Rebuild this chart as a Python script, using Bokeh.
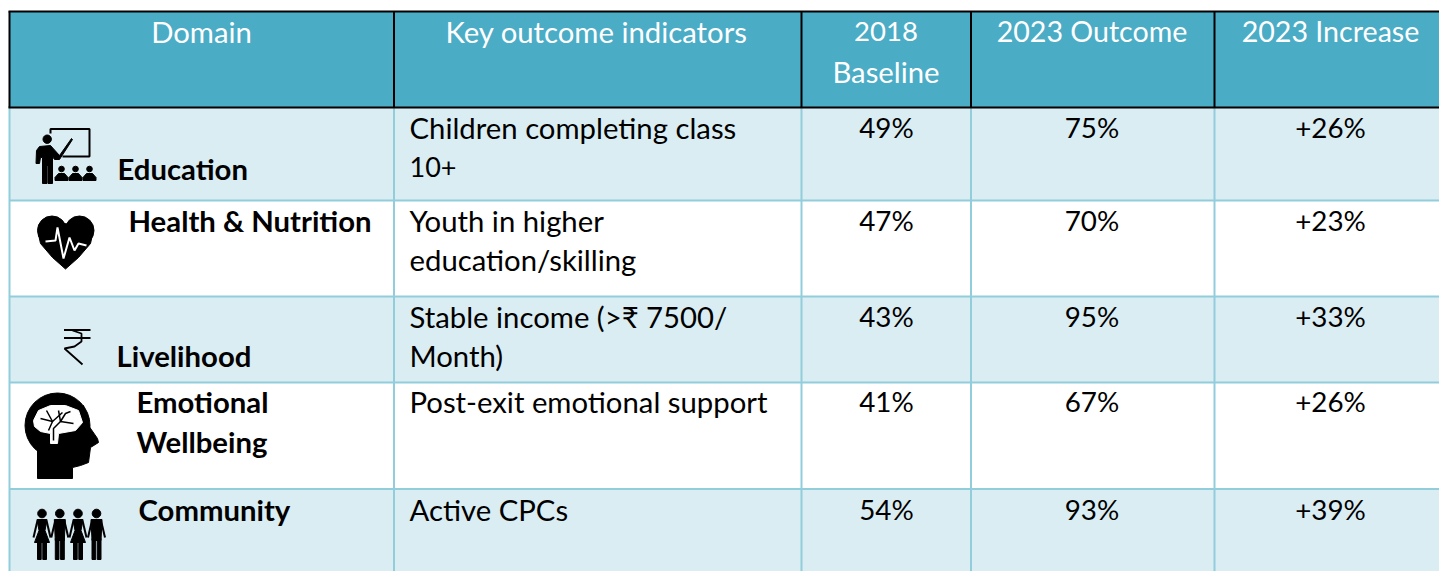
from bokeh.plotting import figure
from bokeh.models import Range1d
from bokeh.core.properties import value
from bokeh.embed import file_html
from bokeh.resources import INLINE

# ---------- table content ----------
headers = ["Domain", "Key outcome indicators", ["2018", "Baseline"], "2023 Outcome", "2023 Increase"]
domains = [["Education"], ["Health & Nutrition"], ["Livelihood"], ["Emotional", "Wellbeing"], ["Community"]]
indicators = [["Children completing class", "10+"],
              ["Youth in higher", "education/skilling"],
              ["Stable income (>₹ 7500/", "Month)"],
              ["Post-exit emotional support"],
              ["Active CPCs"]]
baseline_2018 = [49, 47, 43, 41, 54]
outcome_2023 = [75, 70, 95, 67, 93]
increase_2023 = [26, 23, 33, 26, 39]

# ---------- layout (reference pixels) ----------
W, H = 1439, 571
col_edges = [9, 393.5, 801, 970.5, 1214, 1445]
row_edges = [11, 107, 200, 296, 382, 488.5, 580]
col_text_x = [None, 409, 886, 1091.5, 1330]
header_x = [201, 596, 885.5, 1091.5, 1330]
header_base = [42, 82]
domain_x = [117, 128, 116, 136, 138]
domain_base = [[179], [231], [366], [412, 452], [520]]
row_base = [[138, 178], [231, 270], [327, 366], [412], [520]]
TEXT_SHIFT = -11.5
FONT = "Lato"; FS = "29.3px"; FS_NUM = "27.8px"; FS_HEAD_NUM = "28.6px"
HEAD = "#4BACC6"; BAND = "#DAEDF3"; LINE = "#92CDDC"

p = figure(width=W, height=H, x_range=Range1d(0, W), y_range=Range1d(H, 0),
           x_axis_type=None, y_axis_type=None, toolbar_location=None, output_backend="svg",
           min_border=0, outline_line_color=None, background_fill_color="white")
p.grid.visible = False

# cells
for r in range(len(row_edges) - 1):
    fill = HEAD if r == 0 else (BAND if r % 2 == 1 else "white")
    p.quad(left=[col_edges[0]], right=[col_edges[-1]], top=[row_edges[r]], bottom=[row_edges[r + 1]],
           fill_color=fill, line_color=None)

# light grid
for y in row_edges[2:-1]:
    p.segment([col_edges[0]], [y], [col_edges[-1]], [y], line_color=LINE, line_width=2)
for x in col_edges[:-1]:
    p.segment([x], [row_edges[1]], [x], [row_edges[-1]], line_color=LINE, line_width=2)
# dark header grid
for y in row_edges[:2]:
    p.segment([col_edges[0] - 1], [y], [col_edges[-1]], [y], line_color="black", line_width=2)
for x in col_edges[:-1]:
    p.segment([x], [row_edges[0]], [x], [row_edges[1]], line_color="black", line_width=2)


def txt(xs, ys, ts, color="black", align="left", style="normal", size=FS):
    p.text(x=xs, y=[v + TEXT_SHIFT for v in ys], text=ts, text_color=color, text_align=align,
           text_baseline="alphabetic", text_font=value(FONT), text_font_size=size, text_font_style=style)


# header text
for i, h in enumerate(headers):
    if isinstance(h, list):
        txt([header_x[i]], [header_base[0]], [h[0]], color="white", align="center", size="27.5px")
        txt([header_x[i]], [header_base[1]], [h[1]], color="white", align="center")
    else:
        size = FS_HEAD_NUM if h[0].isdigit() else FS
        txt([header_x[i]], [header_base[0]], [h], color="white", align="center", size=size)

# body text
for r in range(5):
    b = domain_base[r]
    txt([domain_x[r]] * len(b), b, domains[r], style="bold")
    for line, base in zip(indicators[r], row_base[r]):
        txt([col_text_x[1]], [base], [line], size="27px" if line == "10+" else FS)
    y0 = row_base[r][0]
    txt([col_text_x[2]], [y0], [f"{baseline_2018[r]}%"], align="center", size=FS_NUM)
    txt([col_text_x[3]], [y0], [f"{outcome_2023[r]}%"], align="center", size=FS_NUM)
    txt([col_text_x[4]], [y0], [f"+{increase_2023[r]}%"], align="center", size=FS_NUM)

K = "black"
# --- teacher icon
p.multi_line([[50, 50, 89, 89, 62]], [[133, 128.5, 128.5, 156, 156]], line_color=K, line_width=2)
p.circle([46.7], [138.7], radius=4.2, color=K)
p.patch([39, 50, 59, 71, 72, 59, 54, 52, 52, 47.5, 47.5, 46.5, 46.5, 42, 42, 40, 39, 35.5, 36],
        [146, 145, 155, 138, 139, 159, 159, 156, 183, 183, 165, 165, 183, 183, 157, 157, 163, 163, 150], color=K)
for cx in [61, 75, 89]:
    p.circle([cx], [168.5], radius=2.8, color=K)
    p.patch([cx - 6.5, cx - 3, cx + 3, cx + 6.5, cx + 6.5, cx - 6.5], [177, 173, 173, 177, 180, 180], color=K)

# --- heart icon
p.circle([51.5, 79], [230, 230], radius=14.5, color=K)
p.patch([38, 65, 92, 90, 78, 65, 52, 40], [234, 223, 234, 243, 257, 268.5, 257, 243], color=K)
p.line([45, 55, 57, 63, 69, 74, 78, 86], [241, 240, 227, 258, 237, 250, 243, 245],
       line_color="white", line_width=2)

# --- rupee icon
p.multi_line([[63.5, 90], [63.5, 90], [72, 81, 81, 74, 64, 82]],
             [[329.5, 329.5], [337.5, 337.5], [330, 333, 341, 346, 348, 364]],
             line_color=K, line_width=1.8)

# --- head icon
p.circle([57], [425], radius=32.5, color=K)
p.patch([37, 37, 72, 72, 80, 88, 90, 98, 97, 88, 83, 60],
        [445, 478, 478, 467, 465, 462, 447, 442, 438, 425, 405, 420], color=K)
p.patch([33, 38, 50, 65, 78, 82, 75, 58, 57, 50, 50, 40, 34],
        [420, 410, 405, 405, 410, 422, 430, 433, 443, 443, 433, 431, 426], color="white")
p.multi_line([[53, 53, 60, 73], [40, 52, 62], [60, 65, 70], [46, 52, 48], [60, 58]],
             [[440, 428, 421, 423], [418, 421, 412], [421, 413, 411], [410, 421, 430], [421, 410]],
             line_color=K, line_width=1.5)

# --- community icon
for i, cx in enumerate([41.5, 59.3, 77.5, 96]):
    p.circle([cx], [513], radius=4.3, color=K)
    p.multi_line([[cx - 4.5, cx - 8.5], [cx + 4.5, cx + 8.5]], [[520, 537], [520, 537]], line_color=K, line_width=2)
    if i % 2 == 0:  # dress
        p.patch([cx - 5, cx + 5, cx + 3, cx + 7.5, cx - 7.5, cx - 3], [519, 519, 530, 542, 542, 530], color=K)
        p.quad(left=[cx - 4.5, cx + 0.8], right=[cx - 0.8, cx + 4.5], top=[541, 541], bottom=[559, 559], color=K)
    else:  # trousers
        p.patch([cx - 5.5, cx + 5.5, cx + 4.5, cx - 4.5], [519, 519, 540, 540], color=K)
        p.quad(left=[cx - 4.5, cx + 0.8], right=[cx - 0.8, cx + 4.5], top=[538, 538], bottom=[559, 559], color=K)

open("out.html", "w").write(file_html(p, INLINE))
